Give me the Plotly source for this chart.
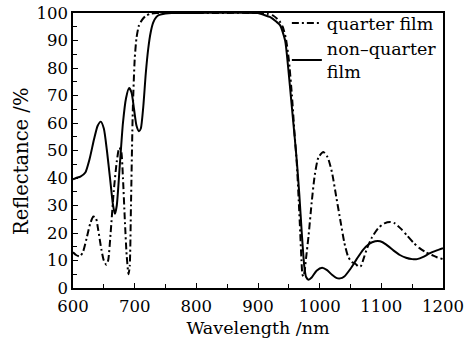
import plotly.graph_objects as go

# quarter film (dash-dot)
q_wl = [600, 605, 611, 616, 622, 628, 633, 637, 641, 646, 650, 654, 657, 661, 666, 671, 675, 678, 681, 684, 687, 690, 692,
        694, 697, 700, 703, 707, 712, 718, 725, 735, 800, 900, 915, 925, 935, 940, 945, 950, 955, 959, 963, 966, 968.5,
        970.5, 972, 973.5, 975.5, 978, 982, 987, 992, 998, 1006, 1013, 1020, 1027, 1034, 1040, 1046, 1052, 1058, 1063,
        1067, 1071, 1077, 1085, 1095, 1105, 1115, 1122, 1132, 1142, 1152, 1162, 1172, 1182, 1190, 1200]
q_r = [13, 12, 11.5, 13, 18, 23.5, 26, 25.5, 21, 14, 10, 8.5, 10, 20, 35, 46, 51, 50, 40, 25, 12, 5, 8,
       30, 65, 83, 91, 95.5, 97.5, 99, 99.7, 100, 100, 100, 99.7, 99, 97, 95, 91, 83, 70, 57, 45, 32, 20,
       10, 5, 4.2, 6, 11, 19, 31, 41, 47.5, 49.5, 47.5, 42, 33, 24, 16.5, 11.5, 9.5, 8.8, 7.8,
       8, 10.5, 14.5, 18.5, 21.8, 23.5, 24, 23.5, 21.5, 19, 16.5, 14.5, 13, 12, 11.2, 10.5]

# non-quarter film (solid)
n_wl = [600, 605, 612, 620, 627, 634, 640, 645, 650, 655, 660, 665, 668, 671, 676, 681, 686, 691, 695, 699, 703, 707,
        710, 714, 718, 722, 726, 730, 735, 740, 750, 760, 800, 900, 910, 920, 930, 936, 944, 949, 954, 959, 963, 967,
        971, 975, 978, 982, 987, 995, 1004, 1012, 1020, 1027, 1033, 1040, 1050, 1060, 1070, 1080, 1090, 1098, 1108,
        1120, 1130, 1140, 1150, 1158, 1168, 1178, 1190, 1200]
n_r = [39.5, 40, 40.5, 42, 47, 54, 59, 60.5, 58, 50, 40, 30, 27, 30, 45, 60, 69, 72.7, 71, 65, 59, 57,
       58, 66, 78, 87, 93, 96.5, 98.5, 99.3, 99.8, 100, 100, 100, 99.3, 98.5, 96.8, 95.5, 90, 80, 68, 56, 46, 34,
       20, 8, 4, 3, 3.8, 6.3, 7.4, 6.5, 4.8, 3.7, 3.5, 4.2, 7, 10.5, 13.8, 16, 17, 17, 15.8,
       13.6, 12, 11, 10.5, 10.5, 11.3, 12.6, 13.7, 14.5]

x_ticks = [600, 700, 800, 900, 1000, 1100, 1200]
y_ticks = [0, 10, 20, 30, 40, 50, 60, 70, 80, 90, 100]

FONT = "DejaVu Serif"

fig = go.Figure()
fig.add_trace(go.Scatter(x=q_wl, y=q_r, mode="lines", name="quarter film",
                         line=dict(color="black", width=2, dash="7px,3px,2px,3px", shape="spline", smoothing=0.6)))
fig.add_trace(go.Scatter(x=n_wl, y=n_r, mode="lines", name="non–quarter<br>film",
                         line=dict(color="black", width=2, shape="spline", smoothing=0.6)))

axis_common = dict(showline=True, linecolor="black", linewidth=1.5, mirror=True, showgrid=False, zeroline=False,
                   ticks="inside", ticklen=5, tickwidth=1.2, tickcolor="black",
                   tickfont=dict(family=FONT, size=16.5, color="black"))

fig.update_xaxes(range=[600, 1200], tickvals=x_ticks, ticktext=[str(v) for v in x_ticks],
                 minor=dict(dtick=50, tick0=600, ticks="inside", ticklen=4, tickcolor="black", tickwidth=1.2),
                 ticklabelstandoff=2,
                 title=dict(text="Wavelength /nm", font=dict(family=FONT, size=17.5, color="black"), standoff=7),
                 **axis_common)
fig.update_yaxes(range=[0, 100], tickvals=y_ticks, ticktext=[str(v) for v in y_ticks],
                 minor=dict(dtick=5, tick0=0, ticks="inside", ticklen=4, tickcolor="black", tickwidth=1.2),
                 **axis_common)

fig.add_annotation(text="Reflectance /%", textangle=-90, xref="paper", yref="paper",
                   x=0, xshift=-52, xanchor="center", y=0.458, yanchor="middle", showarrow=False,
                   font=dict(family=FONT, size=19.5, color="black"))

fig.update_layout(width=476, height=338, margin=dict(l=73, r=33, t=13, b=50, autoexpand=False),
                  plot_bgcolor="white", paper_bgcolor="white",
                  legend=dict(x=0.578, y=1.029, xanchor="left", yanchor="top", bgcolor="rgba(0,0,0,0)",
                              font=dict(family=FONT, size=17.5, color="black"), tracegroupgap=0,
                              itemwidth=30),
                  showlegend=True)

fig.write_html("out.html")
